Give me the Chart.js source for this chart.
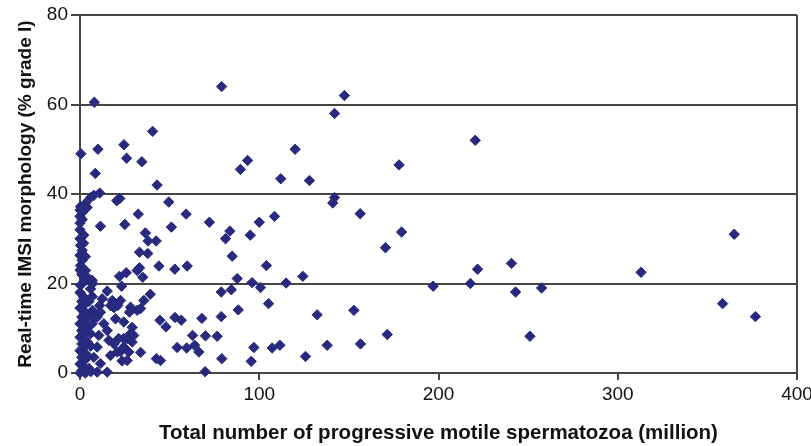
<!DOCTYPE html>
<html>
<head>
<meta charset="utf-8">
<script src="https://cdn.jsdelivr.net/npm/chart.js@4.4.1/dist/chart.umd.min.js"></script>
<style>
html,body{margin:0;padding:0;background:#ffffff;}
#wrap{width:811px;height:446px;}
</style>
</head>
<body>
<div id="wrap"><canvas id="c" width="811" height="446"></canvas></div>
<script>
// Total number of progressive motile spermatozoa (million)
const xValues = [
  79, 8, 40.5, 0.5, 10, 24.5, 26, 34.5, 8.5, 43, 89.5, 93.5, 147.5, 142, 120, 220.5, 112, 128, 178, 142, 141,
  11, 7.7, 5.9, 22.2, 20.5, 49.5, 3, 0.3, 0, 2.1, 0, 1.2, 4, 0,
  100, 108.5, 95, 156.3, 179.4, 170.4, 104, 124.3, 96, 100.7, 115, 221.8, 240.7, 197, 217.8, 243,
  105.2, 132.3, 152.8, 171.4, 156.5, 137.9, 97, 107.2, 111.5, 125.8, 95.5, 251, 365, 313, 257.5, 358.5, 376.8,
  32.5, 59.2, 72.2, 11.4, 25, 51, 36.5, 38, 42.5, 83.6, 81.2, 2.1, 33.2, 37.8, 84.9, 44, 52.9, 59.8, 33.2, 31.9,
  25.8, 22, 35, 87.7, 23.2, 7.1, 78.8, 84.4, 15.2, 6.8, 39.2, 35.6, 22.6, 21.1, 18.9, 17, 11, 33.8, 27.6, 31.9,
  88.3, 78.8, 44.6, 48, 53, 56.5, 68, 62.8, 70, 76.5, 54.2, 59.5, 64, 79.1, 69.8, 42.6, 44.9, 28.2, 26.3, 29.1,
  33.8, 22.6, 23.5, 26.3, 15.2, 9.6,
  0.3, 1.2, 0, 1.2, 0.3, 3.1, 2.1, 4.9, 6.8, 2.1, 0.3, 5.9, 12.4, 18, 11.4, 9.6, 13.3, 15.2, 19.8, 24.4, 29.1,
  16.1, 18.9, 21.6, 24.4, 27.2, 20.8, 17, 9.6, 7.7, 11.4, 10.5, 6.8, 5.9, 30, 66.3, 28.2, 24.4,
  0, 2, 1, 3, 0, 2, 4, 1, 3, 0, 2, 4, 1, 3, 0, 2, 4, 1, 3, 0, 2, 4, 1, 3, 0, 2, 5, 1, 3, 6, 0, 7, 6, 8, 5, 0, 1, 0, 0, 3, 2
];
// Real-time IMSI morphology (% grade I)
const yValues = [
  64, 60.5, 54, 49, 50, 51, 48, 47.2, 44.6, 42, 45.5, 47.5, 62, 58, 50, 52, 43.4, 43, 46.5, 39.2, 38,
  40.2, 39.7, 39.2, 39, 38.5, 38.2, 37.9, 37.2, 36.4, 36.2, 35, 34.3, 37, 33.5,
  33.7, 35, 30.8, 35.6, 31.5, 28, 24, 21.6, 20.2, 19.1, 20.1, 23.2, 24.5, 19.4, 20, 18.1,
  15.5, 13, 14, 8.6, 6.5, 6.2, 5.7, 5.6, 6.2, 3.7, 2.6, 8.2, 31, 22.5, 19, 15.5, 12.6,
  35.5, 35.5, 33.7, 32.8, 33.2, 32.6, 31.3, 29.5, 29.5, 31.7, 30, 30.8, 27, 26.7, 26.1, 23.9, 23.2, 23.9, 23.5, 22.9,
  22.4, 21.6, 21.4, 21.1, 19.4, 20, 18.1, 18.6, 18.3, 17.1, 17.6, 16.2, 16.2, 15.1, 14.6, 15.1, 15.1, 14.4, 13.6, 14,
  14.1, 12.6, 11.8, 10.3, 12.4, 11.8, 12.2, 8.4, 8.3, 8.2, 5.7, 5.6, 6.2, 3.2, 0.3, 3.2, 2.8, 8.8, 7.7, 6.9,
  4.6, 4.8, 2.7, 2.8, 0.2, 0.2,
  28.5, 27.4, 26.3, 25.2, 24, 22.9, 21.8, 21.1, 20.7, 20.3, 19.6, 18.8, 16.6, 16.2, 13.6, 12.5, 11, 9.5, 12.1, 11.4, 10.2,
  7.3, 6.5, 7.7, 5.8, 4.7, 4.7, 3.9, 5.8, 3.5, 2.1, 8.4, 11, 8.8, 8.4, 4.7, 14.7, 7.7,
  18, 17, 16, 15.5, 14.5, 14, 13, 12.5, 12, 11, 10.5, 10, 9.5, 9, 8, 7.5, 7, 6.5, 6, 5, 4.5, 4, 3.5, 3, 2, 1.5, 1, 0.5, 0, 0.3, 0, 14, 6, 12.5, 16, 23, 22, 30, 32, 26, 29
];
const xTicks = [0, 100, 200, 300, 400];
const yTicks = [0, 20, 40, 60, 80];
const xTitle = 'Total number of progressive motile spermatozoa (million)';
const yTitle = 'Real-time IMSI morphology (% grade I)';

const points = xValues.map((x, i) => ({x: x, y: yValues[i]}));
const markColor = '#282a7e';
const lineColor = '#454545';

const bgPlugin = {
  id: 'bg',
  beforeDraw(chart) {
    const ctx = chart.ctx;
    ctx.save();
    ctx.fillStyle = '#ffffff';
    ctx.fillRect(0, 0, chart.width, chart.height);
    ctx.restore();
  }
};

new Chart(document.getElementById('c'), {
  type: 'scatter',
  data: {
    datasets: [{
      data: points,
      clip: false,
      pointStyle: 'rectRot',
      pointRadius: 5.2,
      pointHoverRadius: 5.2,
      backgroundColor: markColor,
      borderColor: markColor,
      borderWidth: 1
    }]
  },
  plugins: [bgPlugin],
  options: {
    responsive: false,
    animation: false,
    events: [],
    layout: {padding: {left: 0, right: 14, top: 15, bottom: 0}},
    plugins: {legend: {display: false}, tooltip: {enabled: false}},
    scales: {
      x: {
        type: 'linear',
        min: 0, max: 400,
        afterBuildTicks(scale) { scale.ticks = xTicks.map(v => ({value: v})); },
        afterFit(scale) { scale.height = 73; scale.paddingLeft = 0; scale.paddingRight = 0; },
        ticks: {
          color: '#111',
          padding: 3,
          font: {family: 'Liberation Sans, Arial, sans-serif', size: 19}
        },
        grid: {
          color: (c) => (c.tick && c.tick.value === 400) ? lineColor : 'rgba(0,0,0,0)',
          tickColor: lineColor,
          lineWidth: 2,
          tickLength: 7,
          drawTicks: true
        },
        border: {display: true, color: lineColor, width: 2},
        title: {
          display: true,
          text: xTitle,
          color: '#111',
          font: {family: 'Liberation Sans, Arial, sans-serif', size: 20.5, weight: 'bold'},
          padding: {top: 0, bottom: 0}
        }
      },
      y: {
        type: 'linear',
        min: 0, max: 80,
        afterBuildTicks(scale) { scale.ticks = yTicks.map(v => ({value: v})); },
        afterFit(scale) { scale.width = 80; scale.paddingTop = 0; scale.paddingBottom = 0; },
        ticks: {
          color: '#111',
          padding: 3,
          font: {family: 'Liberation Sans, Arial, sans-serif', size: 19}
        },
        grid: {
          color: lineColor,
          lineWidth: 2,
          tickLength: 9,
          drawTicks: true
        },
        border: {display: true, color: lineColor, width: 2},
        title: {
          display: true,
          text: yTitle,
          color: '#111',
          font: {family: 'Liberation Sans, Arial, sans-serif', size: 19, weight: 'bold'},
          padding: {top: 14, bottom: 0}
        }
      }
    }
  }
});
</script>
</body>
</html>
